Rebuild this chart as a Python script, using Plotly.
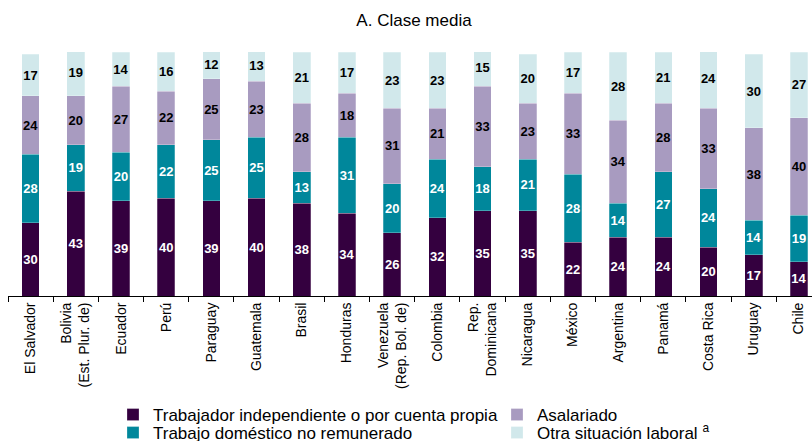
import plotly.graph_objects as go

paises = [
    "El Salvador", "Bolivia<br>(Est. Plur. de)", "Ecuador", "Perú", "Paraguay",
    "Guatemala", "Brasil", "Honduras", "Venezuela<br>(Rep. Bol. de)", "Colombia",
    "Rep.<br>Dominicana", "Nicaragua", "México", "Argentina", "Panamá",
    "Costa Rica", "Uruguay", "Chile",
]

independiente = [30, 43, 39, 40, 39, 40, 38, 34, 26, 32, 35, 35, 22, 24, 24, 20, 17, 14]
domestico = [28, 19, 20, 22, 25, 25, 13, 31, 20, 24, 18, 21, 28, 14, 27, 24, 14, 19]
asalariado = [24, 20, 27, 22, 25, 23, 28, 18, 31, 21, 33, 23, 33, 34, 28, 33, 38, 40]
otra = [17, 19, 14, 16, 12, 13, 21, 17, 23, 23, 15, 20, 17, 28, 21, 24, 30, 27]

FONT = "Liberation Sans, Arial, sans-serif"

# (name, values, fill, label colour, legend row)
series = [
    ("Trabajador independiente o por cuenta propia", independiente, "#34003f", "white", "legend"),
    ("Trabajo doméstico no remunerado", domestico, "#00879b", "white", "legend2"),
    ("Asalariado", asalariado, "#a89bc0", "black", "legend"),
    ("Otra situación laboral <sup>a</sup>", otra, "#d1e8eb", "black", "legend2"),
]

fig = go.Figure()
for nombre, valores, color, txtcolor, fila in series:
    fig.add_trace(go.Bar(
        x=paises,
        y=valores,
        name=nombre,
        legend=fila,
        marker=dict(color=color, line=dict(color="rgba(255,255,255,0.5)", width=0.5)),
        text=valores,
        textposition="inside",
        insidetextanchor="middle",
        textangle=0,
        constraintext="none",
        insidetextfont=dict(family=FONT, size=13, color=txtcolor, weight="bold"),
        hoverinfo="skip",
    ))

legend_style = dict(
    orientation="h",
    traceorder="normal",
    x=113 / 812, xref="container", xanchor="left",
    yref="container", yanchor="middle",
    entrywidth=339,
    entrywidthmode="pixels",
    font=dict(family=FONT, size=17, color="black"),
    bgcolor="rgba(0,0,0,0)",
    itemclick=False,
)

fig.update_layout(
    barmode="stack",
    bargap=0.61,
    width=812,
    height=441,
    margin=dict(l=8, r=0, t=52, b=145),
    paper_bgcolor="white",
    plot_bgcolor="white",
    font=dict(family=FONT, color="black"),
    title=dict(
        text="A. Clase media",
        x=414 / 812, xanchor="center", xref="container",
        y=1 - 20 / 441, yanchor="middle", yref="container",
        font=dict(family=FONT, size=17, color="black"),
    ),
    showlegend=True,
    legend=dict(legend_style, y=1 - 415 / 441),
    legend2=dict(legend_style, y=1 - 433 / 441),
)

fig.update_xaxes(
    type="category",
    range=[-0.5, 17.29],
    showline=True,
    linecolor="black",
    linewidth=1,
    ticks="outside",
    tickson="boundaries",
    ticklen=5,
    tickcolor="black",
    tickangle=-90,
    tickfont=dict(family=FONT, size=14, color="black"),
    showgrid=False,
    zeroline=False,
)
fig.update_yaxes(
    range=[0, 100],
    visible=False,
    showgrid=False,
    zeroline=False,
)

fig.write_html("out.html")
